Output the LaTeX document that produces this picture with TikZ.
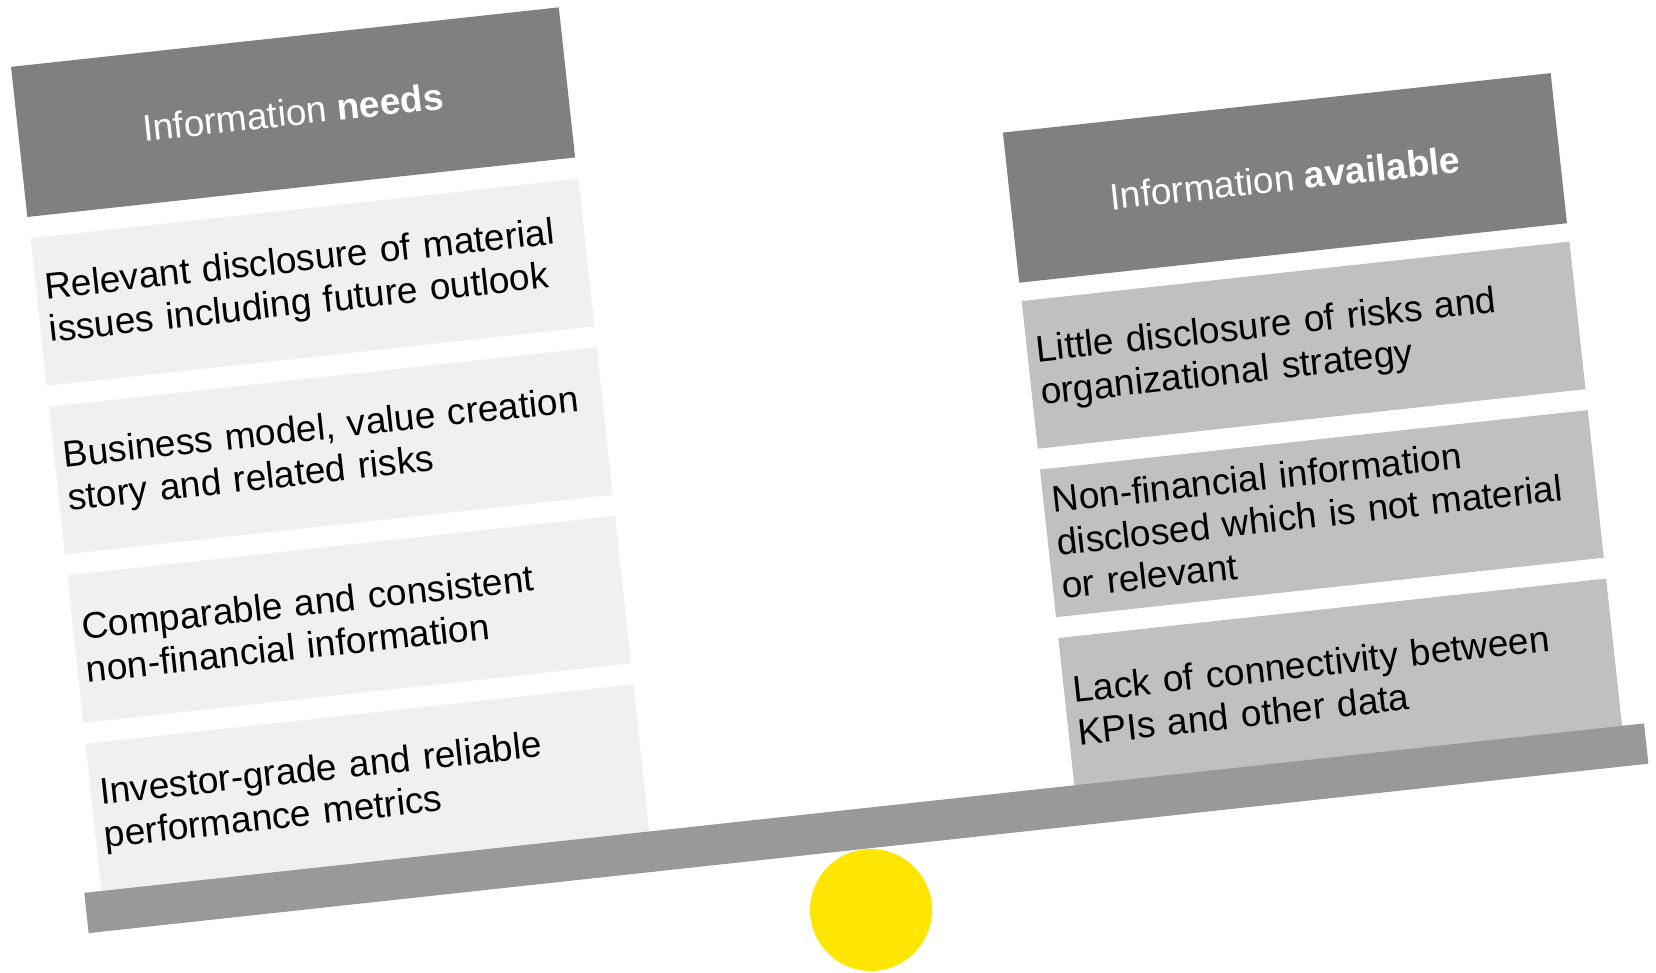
\documentclass[tikz,border=0pt]{standalone}
\usepackage{fontspec}
\setmainfont{Liberation Sans}
\usepackage{xcolor}
\usepackage{tikz}
\definecolor{headgray}{HTML}{808080}
\definecolor{needgray}{HTML}{F0F0F0}
\definecolor{availgray}{HTML}{C0C0C0}
\definecolor{beamgray}{HTML}{999999}
\definecolor{pivotyellow}{HTML}{FFE600}

\begin{document}
\begin{tikzpicture}
                [x=0.5pt, y=0.5pt,
                 head/.style = {fill=headgray, text=white, anchor=north west, minimum width=275.5pt, minimum height=75.5pt, inner sep=0pt, font=\fontsize{18.5}{21.5}\selectfont},
                 need/.style = {fill=needgray, anchor=north west, text width=266.5pt, inner xsep=4.5pt, inner ysep=0pt, minimum height=74.25pt, align=left, font=\fontsize{18.5}{21.5}\selectfont},
                 avail/.style = {need, fill=availgray}]
                \useasboundingbox (0,0) rectangle (1656,-973);
                % Pivot under the beam
                \fill[pivotyellow] (871,-910) circle (30.5pt);
                \begin{scope}[shift={(10.6,-66.5)}, rotate=6.2, transform shape]
                % Left column: what investors need
                \node[head] (needs) at (0,0) {Information \textbf{needs}};
                \node[need] (n1) at (1,-172.5) {Relevant disclosure of material\\issues including future outlook};
                \node[need] (n2) at (1,-342) {Business model, value creation\\story and related risks};
                \node[need] (n3) at (1,-511.5) {Comparable and consistent\\non-financial information};
                \node[need] (n4) at (1,-681) {Investor-grade and reliable\\performance metrics};
                % Right column: what is disclosed
                \node[head] (avail) at (979,-172.5) {Information \textbf{available}};
                \node[avail] (a1) at (979.5,-342) {Little disclosure of risks and\\organizational strategy};
                \node[avail] (a2) at (979.5,-511.5) {Non-financial information\\disclosed which is not material\\or relevant};
                \node[avail] (a3) at (979.5,-681) {Lack of connectivity between\\KPIs and other data};
                % Beam
                \fill[beamgray] (-16,-829.5) rectangle (1553,-870);
                \end{scope}
\end{tikzpicture}
\end{document}
